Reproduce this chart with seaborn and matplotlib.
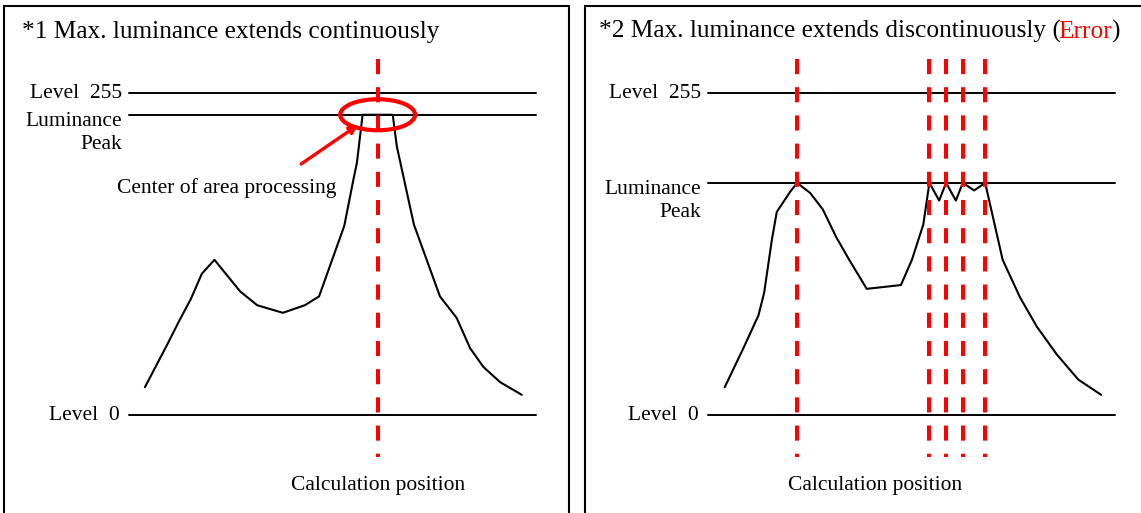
import matplotlib
matplotlib.use("Agg")
import matplotlib.pyplot as plt
from matplotlib.patches import Ellipse, Rectangle
import numpy as np
import pandas as pd
import seaborn as sns

# Luminance levels
level_min = 0
level_max = 255
peak_1 = 238
peak_2 = 184

# Panel 1: luminance profile with a single flat maximum
pos_1 = [3.9, 9.1, 12.4, 15.2, 17.9, 21.0, 27.3, 31.5, 37.8, 43.2, 46.7, 49.8,
         52.9, 55.1, 56.0, 57.4, 64.8, 65.8, 70.0, 76.4, 80.5, 83.8, 87.1, 91.2, 96.5]
lum_1 = [22, 54, 75, 92, 112, 123, 98, 87, 81, 87, 94, 122,
         150, 186, 200, 238, 238, 213, 151, 94, 77, 53, 38, 26, 16]

# Panel 2: luminance profile whose maximum is reached at several separate points
pos_2 = [4.1, 8.7, 12.4, 13.8, 15.7, 16.9, 20.2, 21.9, 25.1, 28.2, 31.5, 34.7,
         39.0, 47.4, 50.1, 52.9, 54.4, 56.8, 58.5, 60.9, 62.6, 65.4, 68.1, 72.4,
         76.7, 80.8, 85.7, 91.0, 96.6]
lum_2 = [22, 53, 79, 97, 139, 161, 177, 184, 176, 163, 141, 123,
         100, 103, 123, 151, 184, 170, 184, 170, 184, 178, 184, 123,
         93, 70, 48, 28, 16]

title_1 = "*1 Max. luminance extends continuously"
title_2 = "*2 Max. luminance extends discontinuously ("
title_2_err = "Error"
title_2_end = ")"
level_labels = ["Level  255", "Luminance\nPeak", "Level  0"]
center_label = "Center of area processing"
calc_label = "Calculation position"

sns.set_theme(style="white")
plt.rcParams["font.family"] = ["Liberation Serif", "DejaVu Serif"]
plt.rcParams["text.color"] = "black"

W, H = 1141, 513
fig = plt.figure(figsize=(W / 100, H / 100), dpi=100)
fig.patch.set_facecolor("white")

RED = "#ff0000"
LABEL_FS = 15.5
TITLE_FS = 18.3


def px_axes(x0, x1, ytop, ybot):
    return fig.add_axes([x0 / W, 1 - ybot / H, (x1 - x0) / W, (ybot - ytop) / H])


def panel_frame(x0, x1):
    fig.add_artist(Rectangle((x0 / W, -0.05), (x1 - x0) / W, 1.05 - 6 / H,
                             transform=fig.transFigure, fill=False,
                             ec="black", lw=1.5))


def draw_panel(ax, pos, lum, peak, calc_x, calc_text_x):
    ax.set_xlim(0, 100)
    ax.set_ylim(level_min, level_max)
    ax.set_axis_off()
    for lv in (level_max, peak, level_min):
        ax.axhline(lv, color="black", lw=1.4, clip_on=False)
    df = pd.DataFrame({"pos": pos, "lum": lum})
    sns.lineplot(data=df, x="pos", y="lum", ax=ax, color="black", lw=1.5,
                 sort=False, estimator=None, clip_on=False)
    for cx in calc_x:
        ax.plot([cx, cx], [282, -33], color=RED, lw=2.9,
                dashes=(3.75, 3.25), clip_on=False, zorder=4)
    ytr = ax.get_yaxis_transform()
    ax.annotate(level_labels[0], xy=(0, level_max), xycoords=ytr,
                xytext=(-7, 0), textcoords="offset pixels",
                ha="right", va="center", fontsize=LABEL_FS)
    ax.annotate(level_labels[1], xy=(0, peak), xycoords=ytr,
                xytext=(-7, -18), textcoords="offset pixels",
                ha="right", va="center", multialignment="right",
                fontsize=LABEL_FS, linespacing=1.3)
    ax.annotate(level_labels[2], xy=(0, level_min), xycoords=ytr,
                xytext=(-9, 0), textcoords="offset pixels",
                ha="right", va="center", fontsize=LABEL_FS)
    ax.text(calc_text_x, -56, calc_label, ha="center", va="center",
            fontsize=LABEL_FS)


# Frames
panel_frame(4, 569)
panel_frame(585, 1160)

# Panel 1
ax1 = px_axes(129, 536, 93.3, 415)
pos_1a, lum_1a = np.array(pos_1), np.array(lum_1)
calc_1 = [pos_1a[lum_1a == peak_1].mean()]
draw_panel(ax1, pos_1, lum_1, peak_1, calc_1, calc_1[0])
ax1.add_patch(Ellipse((calc_1[0], peak_1), 18.4, 24.6, fill=False,
                      ec=RED, lw=3, clip_on=False, zorder=5))
ax1.annotate("", xy=(56.3, 230), xytext=(42.3, 199),
             arrowprops=dict(arrowstyle="-|>", color=RED, lw=2.4,
                             mutation_scale=12, shrinkA=0, shrinkB=0))
ax1.text(24.1, 180, center_label, ha="center", va="center", fontsize=LABEL_FS)

# Panel 2
ax2 = px_axes(708, 1115, 93.3, 415)
pos_2a, lum_2a = np.array(pos_2), np.array(lum_2)
calc_2 = list(pos_2a[lum_2a == peak_2])
draw_panel(ax2, pos_2, lum_2, peak_2, calc_2, 41.0)

# Titles
fig.text(22 / W, 1 - 38 / H, title_1, fontsize=TITLE_FS, va="baseline")
t = fig.text(599 / W, 1 - 38 / H, title_2, fontsize=TITLE_FS, va="baseline")
e = fig.add_artist(matplotlib.text.Annotation(
    title_2_err, xy=(1, 0), xycoords=t, xytext=(-3, 0),
    textcoords="offset pixels", va="bottom",
    fontsize=TITLE_FS, color=RED, annotation_clip=False))
fig.add_artist(matplotlib.text.Annotation(
    title_2_end, xy=(1, 0), xycoords=e, xytext=(-1, 0),
    textcoords="offset pixels", va="bottom",
    fontsize=TITLE_FS, color="black", annotation_clip=False))

fig.savefig("out.png", dpi=100, facecolor="white")
